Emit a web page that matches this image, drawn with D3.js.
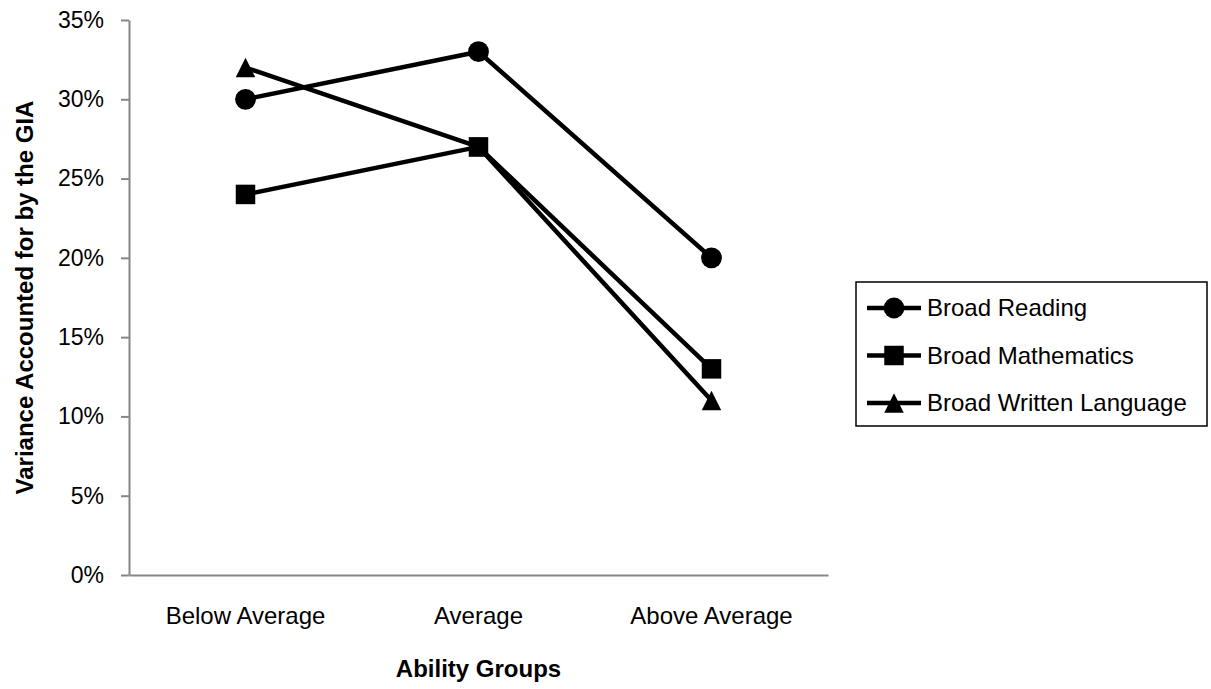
<!DOCTYPE html>
<html><head><meta charset="utf-8">
<script src="https://cdn.jsdelivr.net/npm/d3@7"></script>
<style>body{margin:0;background:#fff}svg{display:block}text{font-family:"Liberation Sans",Arial,sans-serif}</style>
</head><body><svg id="c" width="1211" height="689"></svg>
<script>
const categories = ["Below Average", "Average", "Above Average"];
const seriesNames = ["Broad Reading", "Broad Mathematics", "Broad Written Language"];
const reading = [30, 33, 20];
const mathematics = [24, 27, 13];
const written = [32, 27, 11];
const yTicks = [0, 5, 10, 15, 20, 25, 30, 35];

const tri = { draw(ctx, size) { const s = Math.sqrt(size); ctx.moveTo(0, -s / 2); ctx.lineTo(s / 2, s / 2); ctx.lineTo(-s / 2, s / 2); ctx.closePath(); } };
const symbols = [d3.symbolCircle, d3.symbolSquare, tri];
const sizes = [340, 380, 380];
const series = [reading, mathematics, written];

const svg = d3.select("#c");
const L = 129, R = 828, T = 20, B = 575;
const FS = "24px";
const x = d3.scaleBand().domain(categories).range([L, R]);
const y = d3.scaleLinear().domain([0, 35]).range([B, T]);

const yAxis = svg.append("g").attr("transform", `translate(${L},0)`)
  .call(d3.axisLeft(y).tickValues(yTicks).tickFormat(d => d + "%").tickSize(8).tickSizeOuter(0));
const xAxis = svg.append("g").attr("transform", `translate(0,${B})`)
  .call(d3.axisBottom(x).tickSize(0).tickSizeOuter(0));
[yAxis, xAxis].forEach(g => {
  g.select(".domain").attr("stroke", "#868686").attr("stroke-width", 2);
  g.selectAll(".tick line").attr("stroke", "#868686").attr("stroke-width", 2);
  g.selectAll("text").attr("fill", "#000").style("font-size", FS).style("font-family", "'Liberation Sans',Arial,sans-serif");
});
yAxis.selectAll("text").attr("x", -25).style("font-size", "23px");
xAxis.selectAll("text").attr("y", 49).attr("dy", 0);

const cx = d => x(d) + x.bandwidth() / 2;
const line = d3.line().x((d, i) => cx(categories[i])).y(d => y(d));
series.forEach((s, k) => {
  svg.append("path").datum(s).attr("d", line).attr("fill", "none").attr("stroke", "#000").attr("stroke-width", 4.5).attr("stroke-linejoin", "round");
  svg.selectAll(null).data(s).enter().append("path")
    .attr("transform", (d, i) => `translate(${cx(categories[i])},${y(d)})`)
    .attr("d", d3.symbol().type(symbols[k]).size(sizes[k])).attr("fill", "#000");
});

svg.append("text").attr("transform", `translate(33,${(T + B) / 2}) rotate(-90)`).attr("text-anchor", "middle")
  .style("font-size", FS).style("font-weight", "bold").text("Variance Accounted for by the GIA");
svg.append("text").attr("x", (L + R) / 2).attr("y", 677).attr("text-anchor", "middle")
  .style("font-size", FS).style("font-weight", "bold").text("Ability Groups");

const lg = svg.append("g");
lg.append("rect").attr("x", 856).attr("y", 282).attr("width", 351).attr("height", 144).attr("fill", "#fff").attr("stroke", "#000").attr("stroke-width", 1.5);
seriesNames.forEach((n, k) => {
  const yy = 308 + k * 47.5;
  lg.append("line").attr("x1", 867).attr("x2", 921).attr("y1", yy).attr("y2", yy).attr("stroke", "#000").attr("stroke-width", 4.5);
  lg.append("path").attr("transform", `translate(894,${yy})`).attr("d", d3.symbol().type(symbols[k]).size(sizes[k])).attr("fill", "#000");
  lg.append("text").attr("x", 927).attr("y", yy).attr("dy", "0.35em").style("font-size", FS).text(n);
});
</script></body></html>
